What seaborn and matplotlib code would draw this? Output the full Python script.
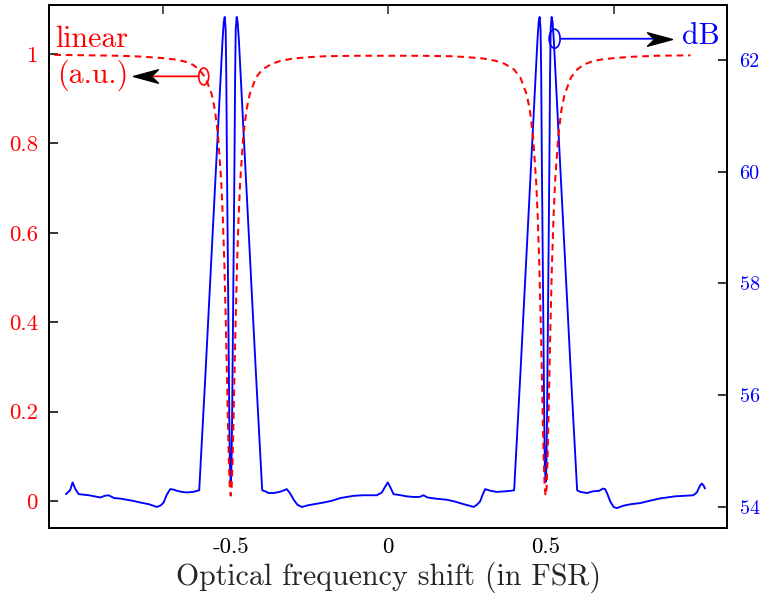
import numpy as np
import pandas as pd
import matplotlib
matplotlib.use("Agg")
import matplotlib.pyplot as plt
import seaborn as sns
from matplotlib.patches import Ellipse
from matplotlib.path import Path

# ---------------- data ----------------
shift_lin = [-1.06, -0.95, -0.85, -0.78, -0.72, -0.68, -0.65, -0.62, -0.60, -0.58,
             -0.56, -0.55, -0.54, -0.53, -0.525, -0.52, -0.515, -0.51, -0.506, -0.503,
             -0.50, -0.497, -0.494, -0.49, -0.485, -0.48, -0.475, -0.47, -0.46, -0.45,
             -0.44, -0.42, -0.40, -0.37, -0.34, -0.30, -0.25, -0.20, -0.10, 0.0,
             0.10, 0.20, 0.25, 0.30, 0.34, 0.37, 0.40, 0.42, 0.44, 0.45,
             0.46, 0.47, 0.475, 0.48, 0.485, 0.49, 0.494, 0.497, 0.50, 0.503,
             0.506, 0.51, 0.515, 0.52, 0.525, 0.53, 0.54, 0.55, 0.56, 0.58,
             0.60, 0.62, 0.65, 0.68, 0.72, 0.78, 0.85, 0.96]
trans_lin = [0.998, 0.997, 0.996, 0.994, 0.991, 0.988, 0.984, 0.976, 0.965, 0.947,
             0.909, 0.874, 0.816, 0.714, 0.634, 0.526, 0.384, 0.217, 0.091, 0.030,
             0.012, 0.030, 0.091, 0.217, 0.384, 0.526, 0.634, 0.714, 0.816, 0.874,
             0.909, 0.947, 0.965, 0.978, 0.985, 0.990, 0.993, 0.995, 0.996, 0.996,
             0.996, 0.995, 0.993, 0.990, 0.985, 0.978, 0.965, 0.947, 0.909, 0.874,
             0.816, 0.714, 0.634, 0.526, 0.384, 0.217, 0.091, 0.030, 0.012, 0.030,
             0.091, 0.217, 0.384, 0.526, 0.634, 0.714, 0.816, 0.874, 0.909, 0.947,
             0.965, 0.976, 0.984, 0.988, 0.991, 0.994, 0.996, 0.997]

shift_db = [-1.023, -1.010, -1.002, -0.994, -0.983, -0.950, -0.914, -0.900, -0.888, -0.870,
            -0.850, -0.830, -0.810, -0.787, -0.760, -0.745, -0.734, -0.722, -0.713, -0.703,
            -0.692, -0.680, -0.671, -0.655, -0.639, -0.620, -0.605, -0.600,
            -0.590, -0.580, -0.570, -0.560, -0.550, -0.540, -0.532, -0.526, -0.522, -0.519,
            -0.516, -0.514, -0.512, -0.5095, -0.507, -0.5045, -0.5025, -0.500,
            -0.4975, -0.4955, -0.493, -0.4905, -0.488, -0.486, -0.484, -0.481, -0.478, -0.474,
            -0.468, -0.460, -0.450, -0.440, -0.430, -0.420, -0.410, -0.400,
            -0.390, -0.380, -0.364, -0.345, -0.330, -0.322, -0.312, -0.300, -0.288, -0.274,
            -0.255, -0.235, -0.205, -0.180, -0.152, -0.130, -0.110, -0.080, -0.050, -0.036,
            -0.020, -0.010, -0.001, 0.008, 0.017, 0.040, 0.060, 0.080, 0.100, 0.112,
            0.125, 0.150, 0.186, 0.210, 0.240, 0.260, 0.271, 0.282, 0.292, 0.300,
            0.308, 0.325, 0.345, 0.370, 0.390, 0.400,
            0.410, 0.420, 0.430, 0.440, 0.450, 0.460, 0.468, 0.474, 0.478, 0.481,
            0.484, 0.486, 0.488, 0.4905, 0.493, 0.4955, 0.4975, 0.500,
            0.5025, 0.5045, 0.507, 0.5095, 0.512, 0.514, 0.516, 0.519, 0.522, 0.526,
            0.532, 0.540, 0.550, 0.560, 0.570, 0.580, 0.590, 0.600,
            0.610, 0.631, 0.650, 0.670, 0.682, 0.689, 0.697, 0.705, 0.716, 0.726,
            0.745, 0.770, 0.800, 0.830, 0.860, 0.885, 0.910, 0.940, 0.969, 0.980,
            0.990, 0.996, 1.002, 1.006]
level_db = [54.23, 54.30, 54.44, 54.33, 54.23, 54.21, 54.17, 54.20, 54.21, 54.16,
            54.15, 54.13, 54.11, 54.08, 54.05, 54.02, 54.00, 54.03, 54.08, 54.22,
            54.32, 54.31, 54.29, 54.27, 54.26, 54.27, 54.29, 54.30,
            55.35, 56.40, 57.50, 58.60, 59.70, 60.80, 61.70, 62.35, 62.68, 62.77,
            62.55, 61.70, 60.20, 58.60, 57.10, 55.60, 54.75, 54.45,
            54.75, 55.60, 57.10, 58.60, 60.20, 61.70, 62.55, 62.77, 62.68, 62.35,
            61.70, 60.80, 59.70, 58.60, 57.50, 56.40, 55.35, 54.30,
            54.28, 54.25, 54.25, 54.27, 54.30, 54.32, 54.25, 54.13, 54.04, 54.00,
            54.03, 54.05, 54.08, 54.11, 54.16, 54.18, 54.20, 54.21, 54.21, 54.21,
            54.26, 54.36, 54.44, 54.34, 54.23, 54.21, 54.19, 54.18, 54.18, 54.21,
            54.17, 54.15, 54.13, 54.10, 54.05, 54.02, 54.00, 54.04, 54.10, 54.22,
            54.32, 54.29, 54.27, 54.28, 54.29, 54.30,
            55.35, 56.40, 57.50, 58.60, 59.70, 60.80, 61.70, 62.35, 62.68, 62.77,
            62.55, 61.70, 60.20, 58.60, 57.10, 55.60, 54.75, 54.45,
            54.75, 55.60, 57.10, 58.60, 60.20, 61.70, 62.55, 62.77, 62.68, 62.35,
            61.70, 60.80, 59.70, 58.60, 57.50, 56.40, 55.35, 54.30,
            54.27, 54.25, 54.28, 54.29, 54.33, 54.32, 54.22, 54.10, 54.00, 53.98,
            54.02, 54.05, 54.07, 54.11, 54.15, 54.17, 54.19, 54.20, 54.21, 54.26,
            54.38, 54.42, 54.38, 54.33]

x_ticks = [-0.5, 0.0, 0.5]
x_tick_labels = ["-0.5", "0", "0.5"]
top_ticks = [-0.716, 0.0, 0.716]
lin_ticks = [0.0, 0.2, 0.4, 0.6, 0.8, 1.0]
lin_tick_labels = ["0", "0.2", "0.4", "0.6", "0.8", "1"]
db_ticks = [54, 56, 58, 60, 62]
db_tick_labels = ["54", "56", "58", "60", "62"]
x_label = "Optical frequency shift (in FSR)"

RED = "#ff0000"
BLUE = "#0000ff"

# ---------------- style ----------------
sns.set_style("white")
plt.rcParams["font.family"] = ["cmr10", "DejaVu Serif"]
plt.rcParams["axes.formatter.use_mathtext"] = True
plt.rcParams["axes.unicode_minus"] = False

fig = plt.figure(figsize=(7.62, 5.94), dpi=100)
ax = fig.add_axes([0.0643, 0.1111, 0.8898, 0.8805])
ax2 = ax.twinx()
ax.set_zorder(ax2.get_zorder() + 1)
ax.patch.set_visible(False)

df_db = pd.DataFrame({"shift": shift_db, "level": level_db})
df_lin = pd.DataFrame({"shift": shift_lin, "trans": trans_lin})

sns.lineplot(data=df_db, x="shift", y="level", ax=ax2, color=BLUE, linewidth=1.35,
             estimator=None, sort=False, errorbar=None)
sns.lineplot(data=df_lin, x="shift", y="trans", ax=ax, color=RED, linewidth=1.45,
             linestyle=(0, (3.3, 2.4)), estimator=None, sort=False, errorbar=None)

ax.set_xlim(-1.077, 1.076)
ax.set_ylim(-0.0604, 1.1096)
ax2.set_ylim(53.624, 62.984)

ax.set_xticks(x_ticks)
ax.set_xticklabels(x_tick_labels, fontsize=16.5)
ax.set_yticks(lin_ticks)
ax.set_yticklabels(lin_tick_labels, fontsize=16.5, color=RED)
ax2.set_yticks(db_ticks)
ax2.set_yticklabels(db_tick_labels, fontsize=14.5, color=BLUE)

ax.tick_params(axis="x", direction="in", length=6.5, width=1.1, pad=7, colors="black")
ax.tick_params(axis="y", direction="in", length=6.5, width=1.1, pad=8, color="black",
               labelcolor=RED)
ax2.tick_params(axis="y", direction="in", length=6.5, width=1.1, pad=9, color="black",
                labelcolor=BLUE)

sec = ax.secondary_xaxis("top")
sec.set_xticks(top_ticks)
sec.tick_params(direction="in", length=6.5, width=1.1, labeltop=False)

for a in (ax, ax2):
    for s in a.spines.values():
        s.set_linewidth(1.3)
        s.set_color("black")
for s in sec.spines.values():
    s.set_linewidth(1.3)

ax.set_xlabel(x_label, fontsize=21.5, labelpad=3)
ax.set_ylabel("")
ax2.set_ylabel("")

# ---------------- annotations ----------------
ax.text(-1.057, 1.0163, "linear", color=RED, fontsize=21.5, ha="left", va="baseline")
ax.text(-1.051, 0.936, "(a.u.)", color=RED, fontsize=21.5, ha="left", va="baseline")
ax2.text(0.933, 62.28, "dB", color=BLUE, fontsize=21.5, ha="left", va="baseline")

ax.add_patch(Ellipse((-0.5857, 0.9497), 0.0317, 0.038, fill=False, edgecolor=RED, lw=1.2,
                     zorder=5))
ax2.add_patch(Ellipse((0.5286, 62.38), 0.035, 0.34, fill=False, edgecolor=BLUE, lw=1.2,
                      zorder=5))

ax.annotate("", xy=(-0.80, 0.950), xytext=(-0.6017, 0.950),
            arrowprops=dict(arrowstyle="-", color=RED, lw=1.3, shrinkA=0, shrinkB=0))
ax2.annotate("", xy=(0.89, 62.38), xytext=(0.5461, 62.38),
             arrowprops=dict(arrowstyle="-", color=BLUE, lw=1.3, shrinkA=0, shrinkB=0))

codes = [Path.MOVETO, Path.LINETO, Path.LINETO, Path.LINETO, Path.CLOSEPOLY]
head_left = Path([(0, 0), (1, 0.27), (0.72, 0), (1, -0.27), (0, 0)], codes)
head_right = Path([(0, 0), (-1, 0.27), (-0.72, 0), (-1, -0.27), (0, 0)], codes)
ax.plot([-0.81], [0.950], marker=head_left, markersize=36, color="black",
        linestyle="none", zorder=6)
ax2.plot([0.901], [62.38], marker=head_right, markersize=36, color="black",
         linestyle="none", zorder=6)

fig.savefig("out.png", dpi=100)
